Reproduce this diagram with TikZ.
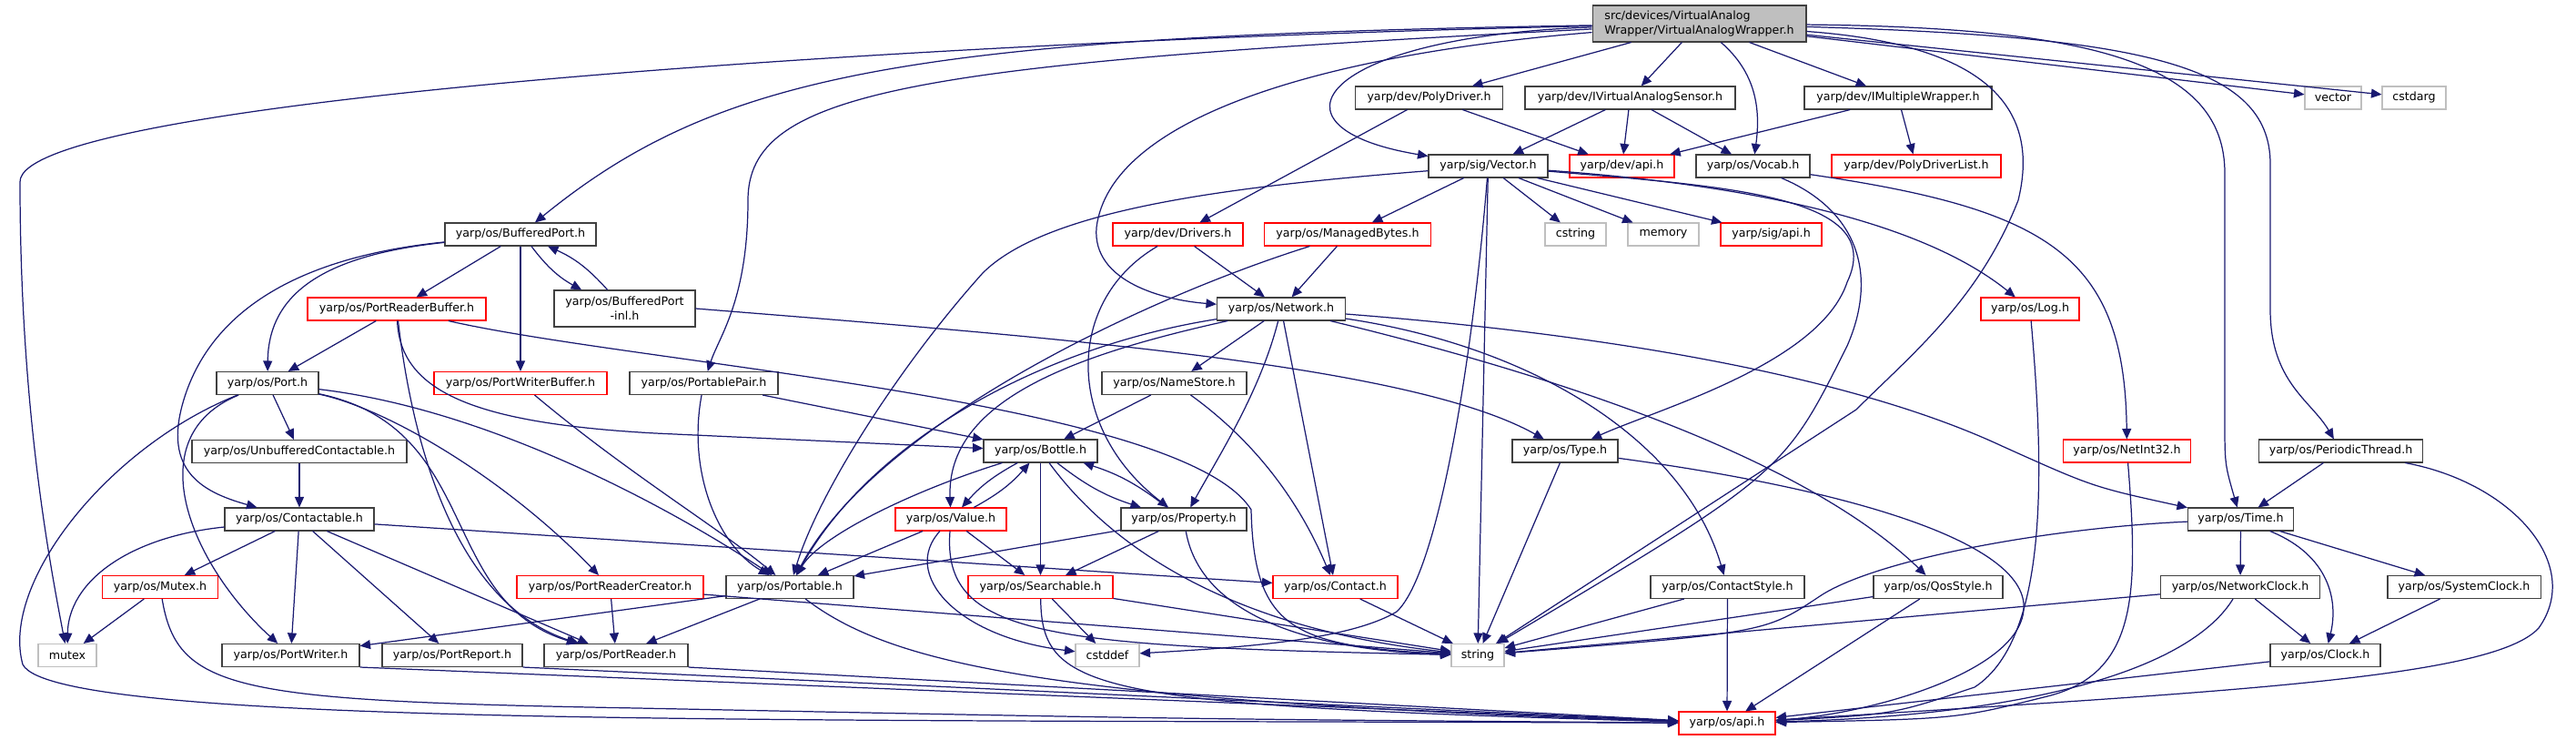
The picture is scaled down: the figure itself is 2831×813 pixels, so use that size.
\documentclass[tikz,border=0pt]{standalone}
\usepackage{fontspec}
\setmainfont{DejaVu Sans}
\usetikzlibrary{arrows.meta}
\definecolor{DoxEdge}{RGB}{25,25,112}
\definecolor{DoxFrame}{RGB}{64,64,64}
\definecolor{DoxRed}{RGB}{255,0,0}
\definecolor{DoxGray}{RGB}{191,191,191}

\begin{document}
\begin{tikzpicture}[x=0.02cm,y=-0.02cm,
  hdr/.style={draw=DoxFrame,fill=white,line width=0.6pt,minimum height=0.5cm,inner sep=1pt,font=\fontsize{7.2}{8.9}\selectfont},
  redhdr/.style={hdr,draw=DoxRed},
  syshdr/.style={hdr,draw=DoxGray},
  dep/.style={DoxEdge,line width=0.7pt,-{Triangle[length=0.23cm,width=0.2cm]}}]
  \useasboundingbox (0,0) rectangle (2831,813);
  \node[hdr,fill=DoxGray,align=left,minimum width=4.7cm,minimum height=0.8cm] (root) at (1867.5,26) {src/devices/VirtualAnalog\\Wrapper/VirtualAnalogWrapper.h};
  \node[hdr,align=center,minimum width=3.1cm,minimum height=0.8cm] (bpinl) at (686.5,339) {yarp/os/BufferedPort\\-inl.h};
  \foreach \n/\x/\y/\w/\lbl in {
    polydrv/1570.5/107.5/162/{yarp/dev/PolyDriver.h},
    ivas/1791.5/107.5/231/{yarp/dev/IVirtualAnalogSensor.h},
    imw/2086/107.5/206/{yarp/dev/IMultipleWrapper.h},
    vec/1635.5/182.5/131/{yarp/sig/Vector.h},
    vocab/1926.5/182.5/125/{yarp/os/Vocab.h},
    bport/572/257.5/166/{yarp/os/BufferedPort.h},
    network/1408/339.5/141/{yarp/os/Network.h},
    port/294/421/112/{yarp/os/Port.h},
    ppair/773.5/421/163/{yarp/os/PortablePair.h},
    namestore/1290.5/421/159/{yarp/os/NameStore.h},
    unbuf/329/496/236/{yarp/os/UnbufferedContactable.h},
    bottle/1143.5/495.5/125/{yarp/os/Bottle.h},
    type/1720/495.5/116/{yarp/os/Type.h},
    pthread/2572.5/495.5/180/{yarp/os/PeriodicThread.h},
    contactable/329/570.5/164/{yarp/os/Contactable.h},
    property/1301/570.5/138/{yarp/os/Property.h},
    time/2462.5/570.5/116/{yarp/os/Time.h},
    portable/868/645/140/{yarp/os/Portable.h},
    cstyle/1898.5/645/169/{yarp/os/ContactStyle.h},
    qos/2130/645/142/{yarp/os/QosStyle.h},
    nclock/2462/645/175/{yarp/os/NetworkClock.h},
    sclock/2708/645/168/{yarp/os/SystemClock.h},
    pwriter/319.5/720/151/{yarp/os/PortWriter.h},
    preport/497/720/154/{yarp/os/PortReport.h},
    preader/677/720/158/{yarp/os/PortReader.h},
    clock/2555.5/720/121/{yarp/os/Clock.h}
  } \node[hdr,minimum width=\w*0.02cm] (\n) at (\x,\y) {\lbl};
  \foreach \n/\x/\y/\w/\lbl in {
    devapi/1782.5/182.5/115/{yarp/dev/api.h},
    pdl/2106/182.5/186/{yarp/dev/PolyDriverList.h},
    drivers/1294.5/257.5/143/{yarp/dev/Drivers.h},
    mbytes/1481/257.5/183/{yarp/os/ManagedBytes.h},
    sigapi/1946.5/257.5/111/{yarp/sig/api.h},
    prbuf/436/339.5/196/{yarp/os/PortReaderBuffer.h},
    log/2231/339.5/108/{yarp/os/Log.h},
    pwbuf/572/421/190/{yarp/os/PortWriterBuffer.h},
    netint/2337.5/495.5/140/{yarp/os/NetInt32.h},
    value/1045/570.5/122/{yarp/os/Value.h},
    mutexh/176/645/127/{yarp/os/Mutex.h},
    prcreator/670.5/645/205/{yarp/os/PortReaderCreator.h},
    searchable/1143.5/645/159/{yarp/os/Searchable.h},
    contact/1467.5/645/137/{yarp/os/Contact.h},
    osapi/1898/794.5/106/{yarp/os/api.h}
  } \node[redhdr,minimum width=\w*0.02cm] (\n) at (\x,\y) {\lbl};
  \foreach \n/\x/\y/\w in {vector/2564/107.5/62, cstdarg/2653/107.5/70, cstring/1731.5/257.5/67,
    memory/1828/257.5/78, mutex/74/720/64, cstddef/1217/720/70, string/1624/720/58}
    \node[syshdr,minimum width=\w*0.02cm] (\n) at (\x,\y) {\n};

  \foreach \a/\b in {root/polydrv, root/ivas, root/imw, root/vector, root/cstdarg,
    polydrv/drivers, polydrv/devapi, ivas/vec, ivas/devapi, ivas/vocab, imw/devapi, imw/pdl,
    vec/mbytes, vec/cstring, vec/memory, vec/sigapi, vec/string,
    mbytes/network, drivers/network, network/namestore, network/contact, namestore/bottle,
    bport/prbuf, bport/pwbuf, prbuf/port, port/unbuf, unbuf/contactable, ppair/bottle,
    contactable/mutexh, contactable/pwriter, contactable/preport, contactable/preader, contactable/contact,
    mutexh/mutex, pwriter.south east/osapi, preport.south east/osapi, preader.south east/osapi,
    portable/pwriter, portable/preader, prcreator/preader, prcreator/string,
    bottle/searchable, value/portable, value/searchable, property/portable, property/searchable,
    searchable/cstddef, searchable/string, contact/string, type/string,
    cstyle/string, cstyle/osapi, qos/string, qos/osapi,
    pthread/time, time/nclock, time/sclock, nclock/clock, nclock/string, sclock/clock, clock/osapi}
    \draw[dep] (\a) -- (\b);

  \draw[dep] (root) .. controls (1000,45) and (20,110) .. (22,200) .. controls (22,450) and (55,620) .. (mutex);
  \draw[dep] (root) .. controls (1000,40) and (790,80) .. (bport);
  \draw[dep] (root) .. controls (1000,70) and (822,100) .. (822,220) .. controls (822,330) and (790,370) .. (ppair);
  \draw[dep] (root) .. controls (1450,40) and (1380,140) .. (vec);
  \draw[dep] (root) .. controls (1450,60) and (1220,130) .. (1205,250) .. controls (1200,310) and (1280,330) .. (network);
  \draw[dep] (root) .. controls (1930,80) and (1935,120) .. (vocab);
  \draw[dep] (root) .. controls (2200,50) and (2240,130) .. (2218,220) .. controls (2175,330) and (2100,390) .. (2040,450) -- (string);
  \draw[dep] (root) .. controls (2300,30) and (2445,70) .. (2445,190) -- (2445,460) .. controls (2445,510) .. (time);
  \draw[dep] (root) .. controls (2350,40) and (2495,70) .. (2495,180) -- (2495,340) .. controls (2495,420) and (2540,440) .. (pthread);

  \draw[dep] (vec) .. controls (1350,205) and (1150,230) .. (1080,300) .. controls (990,400) and (900,540) .. (portable);
  \draw[dep] (vec) .. controls (1618,400) and (1580,630) .. (1535,672) .. controls (1480,705) and (1350,712) .. (cstddef);
  \draw[dep] (vec) .. controls (1900,205) and (2075,215) .. (2030,310) .. controls (2000,400) and (1820,450) .. (type);
  \draw[dep] (vec) .. controls (1950,205) and (2120,250) .. (log);
  \draw[dep] (vocab) .. controls (2040,230) and (2065,300) .. (2030,380) .. controls (1960,520) .. (string);
  \draw[dep] (vocab) .. controls (2250,230) and (2335,280) .. (netint);
  \draw[dep] (mbytes) .. controls (1250,330) and (960,470) .. (portable);
  \draw[dep] (drivers) .. controls (1170,330) and (1170,470) .. (property);

  \draw[dep] (network) .. controls (1385,430) and (1340,500) .. (property);
  \draw[dep] (network) .. controls (1180,390) and (1040,440) .. (value);
  \draw[dep] (network) .. controls (1150,380) and (960,480) .. (portable);
  \draw[dep] (network) .. controls (1680,380) and (1850,480) .. (cstyle);
  \draw[dep] (network) .. controls (1700,410) and (1980,500) .. (qos);
  \draw[dep] (network) .. controls (1800,370) and (2050,420) .. (2200,490) .. controls (2300,535) .. (time);
  \draw[dep] (namestore) .. controls (1400,500) and (1440,580) .. (contact);

  \draw[dep] (bport) to[bend right=12] (bpinl);
  \draw[dep] (bpinl) to[bend right=12] (bport);
  \draw[dep] (bport) .. controls (360,280) and (295,320) .. (port);
  \draw[dep] (bport) .. controls (300,285) and (230,360) .. (205,430) .. controls (175,515) and (220,540) .. (contactable);
  \draw[dep] (bpinl.east) .. controls (1150,370) and (1550,400) .. (type);
  \draw[dep] (prbuf) .. controls (440,430) and (520,465) .. (720,476) -- (bottle);
  \draw[dep] (prbuf) .. controls (450,460) and (490,660) .. (preader);
  \draw[dep] (prbuf) .. controls (700,400) and (1300,440) .. (1375,560) .. controls (1378,690) and (1420,710) .. (string);

  \draw[dep] (port) .. controls (150,480) and (210,620) .. (pwriter);
  \draw[dep] (port) .. controls (120,490) and (0,640) .. (25,730) .. controls (60,800) and (900,790) .. (osapi);
  \draw[dep] (port) .. controls (430,450) and (560,530) .. (prcreator);
  \draw[dep] (port) .. controls (530,470) and (480,660) .. (preader);
  \draw[dep] (port) .. controls (540,450) and (740,560) .. (portable);
  \draw[dep] (pwbuf) .. controls (690,520) and (790,580) .. (portable);
  \draw[dep] (ppair) .. controls (755,520) and (790,600) .. (portable);
  \draw[dep] (contactable) .. controls (140,590) and (75,640) .. (mutex);
  \draw[dep] (mutexh) .. controls (195,760) and (260,770) .. (700,778) .. controls (1300,790) .. (osapi);
  \draw[dep] (portable) .. controls (980,730) and (1150,770) .. (osapi);
  \draw[dep] (searchable) .. controls (1145,760) and (1200,775) .. (osapi);

  \draw[dep] (bottle) .. controls (1000,540) and (900,590) .. (portable);
  \draw[dep] (bottle) .. controls (1220,600) and (1350,690) .. (string);
  \draw[dep] (bottle) to[bend right=10] (value);
  \draw[dep] (value) to[bend right=10] (bottle);
  \draw[dep] (bottle) to[bend right=10] (property);
  \draw[dep] (property) to[bend right=10] (bottle);
  \draw[dep] (value) .. controls (990,630) and (1050,700) .. (cstddef);
  \draw[dep] (value) .. controls (1035,700) and (1150,710) .. (string);
  \draw[dep] (property) .. controls (1320,680) and (1450,715) .. (string);

  \draw[dep] (type) .. controls (2050,540) and (2230,600) .. (2224,670) .. controls (2218,740) and (2050,785) .. (osapi);
  \draw[dep] (log) .. controls (2245,500) and (2255,700) .. (2170,755) .. controls (2080,785) .. (osapi);
  \draw[dep] (netint) .. controls (2350,650) and (2350,740) .. (2250,765) .. controls (2150,790) .. (osapi);
  \draw[dep] (nclock) .. controls (2410,730) and (2250,785) .. (osapi);
  \draw[dep] (pthread) .. controls (2760,530) and (2840,620) .. (2790,690) .. controls (2740,745) and (2450,760) .. (osapi);
  \draw[dep] (time) .. controls (2250,580) and (2060,615) .. (2000,655) .. controls (1940,695) .. (string);
  \draw[dep] (time) .. controls (2560,610) and (2570,660) .. (clock);
\end{tikzpicture}
\end{document}
